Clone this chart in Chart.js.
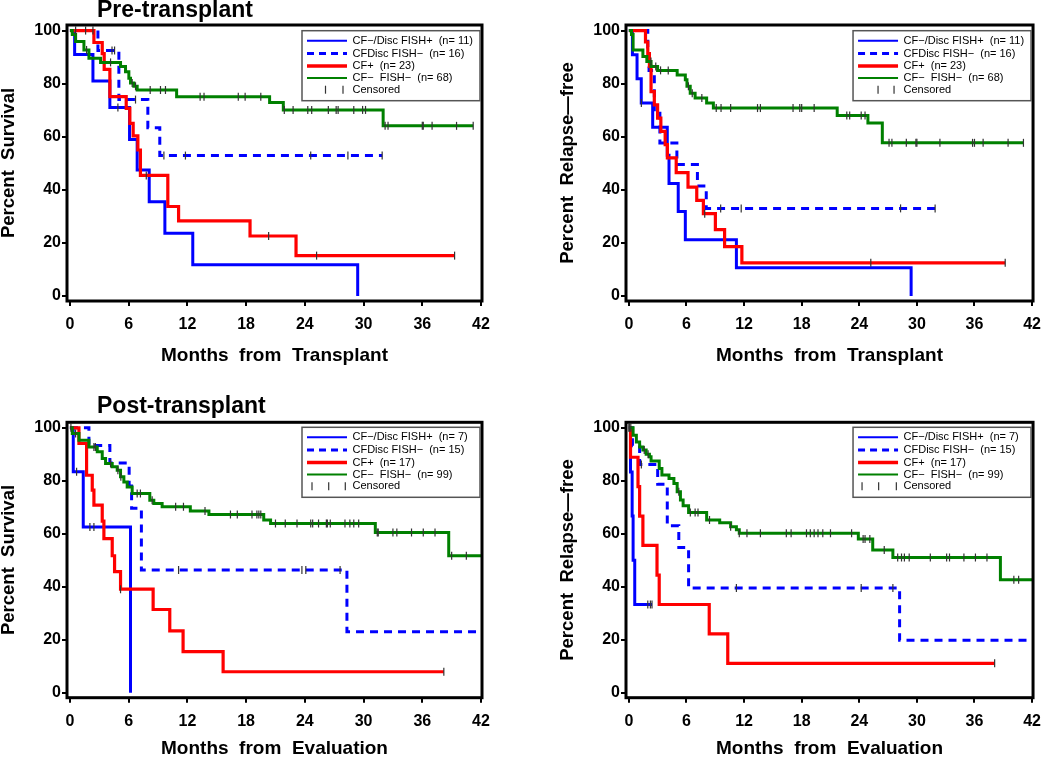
<!DOCTYPE html>
<html>
<head>
<meta charset="utf-8">
<script src="https://cdn.jsdelivr.net/npm/chart.js@4.4.1/dist/chart.umd.min.js"></script>
<style>
  html, body { margin: 0; background: #fff; }
  #wrap { position: relative; width: 1050px; height: 760px; overflow: hidden; }
  #wrap canvas { position: absolute; }
  .ttl { position: absolute; font: bold 23px "Liberation Sans", Arial, sans-serif; line-height: 23px; color: #000; white-space: nowrap; }
</style>
</head>
<body>
<div id="wrap">
  <canvas id="c1" width="525" height="380" style="left:0;top:0"></canvas>
  <canvas id="c2" width="525" height="380" style="left:525px;top:0"></canvas>
  <canvas id="c3" width="525" height="380" style="left:0;top:380px"></canvas>
  <canvas id="c4" width="525" height="380" style="left:525px;top:380px"></canvas>
  <div class="ttl" style="left:97px;top:-2px">Pre-transplant</div>
  <div class="ttl" style="left:97px;top:394px">Post-transplant</div>
</div>
<script>
// axis ticks
const X_TICKS = [0, 6, 12, 18, 24, 30, 36, 42];
const Y_TICKS = [0, 20, 40, 60, 80, 100];

// groups and sizes
const GROUPS = ['CF\u2212/Disc FISH+', 'CFDisc FISH\u2212', 'CF+', 'CF\u2212  FISH\u2212'];
const N_PRE = [11, 16, 23, 68];
const N_POST = [7, 15, 17, 99];

// Pre-transplant, survival (months, percent, censor months)
const preOsBlueT = [0, 0.48, 2.35, 4.08, 6.09, 6.87, 8.1, 9.7, 12.55, 29.4];
const preOsBlueS = [100, 91, 81, 71, 59, 47.5, 35.5, 23.6, 11.8, 0];
const preOsBlueC = [4.9];
const preOsDashT = [0, 2.86, 5.0, 7.96, 9.18, 31.9];
const preOsDashS = [100, 92.5, 74, 63.4, 52.9, 52.9];
const preOsDashC = [4.3, 4.56, 6.7, 9.6, 11.8, 24.6, 28.4, 31.9];
const preOsRedT = [0, 2.45, 3.3, 3.5, 4.08, 5.75, 6.12, 6.46, 6.94, 7.2, 10.0, 11.1, 18.4, 23.1, 39.3];
const preOsRedS = [100, 95.5, 91.3, 85.4, 75.1, 70.7, 65, 60.3, 55, 45.4, 33.7, 28.3, 22.6, 15.2, 15.2];
const preOsRedC = [0.58, 1.6, 2.35, 7.8, 20.3, 25.2, 39.3];
const preOsGreenT = [0, 0.24, 0.58, 1.43, 1.94, 3.13, 5.17, 5.68, 6.02, 6.19, 6.53, 6.87, 10.9, 20.4, 21.8, 32.0, 41.2];
const preOsGreenS = [100, 98.5, 95.9, 92.7, 89.6, 88.0, 86.5, 84.5, 82.0, 80.2, 79.0, 77.6, 75.1, 72.9, 70.1, 64.1, 64.1];
const preOsGreenC = [1.7, 4.15, 6.36, 6.7, 8.2, 9.25, 9.76, 13.3, 13.7, 17.2, 17.9, 19.5, 21.9, 22.8, 24.3, 24.7, 26.4,
  27.2, 27.4, 29.0, 29.9, 30.2, 32.2, 32.5, 36.0, 36.1, 37.0, 39.5, 41.2];

// Pre-transplant, relapse-free
const preRfBlueT = [0, 0.37, 0.85, 1.29, 2.48, 4.0, 4.18, 5.14, 5.88, 11.2, 29.4];
const preRfBlueS = [100, 90.9, 81.8, 72.7, 63.6, 53, 42.4, 31.8, 21.2, 10.6, 0];
const preRfBlueC = [1.3];
const preRfDashT = [0, 1.97, 2.1, 2.65, 3.23, 5.0, 7.14, 8.06, 31.9];
const preRfDashS = [100, 93.8, 85, 68.8, 57.6, 49.5, 41.4, 33, 33];
const preRfDashC = [9.56, 11.7, 28.3, 31.9];
const preRfRedT = [0, 1.73, 1.97, 2.14, 2.31, 2.65, 2.99, 3.33, 3.78, 4.01, 4.93, 6.16, 7.07, 7.76, 9.01, 9.97, 11.77, 39.2];
const preRfRedS = [100, 95.7, 91.3, 86.5, 77, 72, 67, 62, 57, 52, 46.5, 41, 36, 31, 25, 18.6, 12.5, 12.5];
const preRfRedC = [7.9, 25.2, 39.2];
const preRfGreenT = [0, 0.27, 0.44, 1.46, 1.87, 2.31, 2.99, 5.03, 5.88, 6.05, 6.39, 6.9, 8.1, 8.8, 21.7, 24.9, 26.4, 41.1];
const preRfGreenS = [100, 98.5, 92.7, 90.2, 88.3, 86.5, 85, 83.3, 81.5, 79, 76.4, 74.6, 72.7, 70.8, 68.0, 65.2, 57.7, 57.7];
const preRfGreenC = [2.3, 2.8, 3.3, 4.1, 6.2, 6.6, 7.6, 9.1, 9.6, 10.6, 13.4, 13.7, 17.1, 17.8, 18.0, 19.3, 22.7, 23.0,
  24.2, 24.6, 27.1, 27.4, 28.9, 29.9, 30.0, 32.4, 35.8, 36.0, 36.9, 39.5, 41.1];

// Post-transplant, survival
const postOsBlueT = [0, 0.34, 1.36, 6.19];
const postOsBlueS = [100, 83.4, 62.6, 0];
const postOsBlueC = [0.68, 2.04, 2.45];
const postOsDashT = [0, 1.94, 4.08, 6.05, 6.3, 7.3, 28.3, 42];
const postOsDashS = [100, 93.3, 86.7, 78, 69.6, 46.3, 23.0, 23.0];
const postOsDashC = [11.1, 23.7, 24.1, 27.6];
const postOsRedT = [0, 0.92, 1.7, 2.28, 2.45, 3.3, 3.47, 4.32, 4.56, 5.17, 8.5, 10.2, 11.56, 15.65, 38.2];
const postOsRedS = [100, 94.1, 82.1, 76.5, 70.8, 64.8, 58.2, 51.7, 45.7, 39.1, 31.4, 23.3, 15.5, 7.9, 7.9];
const postOsRedC = [5.17, 38.2];
const postOsGreenT = [0, 0.24, 0.92, 1.94, 2.79, 3.3, 3.64, 4.32, 4.83, 5.17, 5.51, 5.85, 6.36, 8.16, 8.57, 9.42, 12.3,
  14.2, 19.8, 20.5, 31.2, 38.7, 42];
const postOsGreenS = [100, 97.9, 95.3, 92.8, 91, 88.4, 86.5, 85.3, 84, 81.5, 79.6, 77.7, 75.2, 72.7, 71.4, 70.2, 68.6,
  67.3, 65.2, 63.9, 60.5, 51.7, 51.7];
const postOsGreenC = [0.1, 0.58, 2.45, 2.6, 4.15, 4.9, 5.2, 6.87, 7.2, 8.4, 10.8, 11.6, 13.8, 16.4, 17.1, 18.6, 19.1,
  19.3, 19.5, 21.0, 22.0, 23.2, 24.6, 24.8, 25.4, 26.2, 26.3, 26.6, 28.1, 28.6, 29.0, 29.5, 31.4, 31.5, 33.0, 33.4,
  34.9, 36.1, 37.3, 39.0, 40.5];

// Post-transplant, relapse-free
const postRfBlueT = [0, 0.17, 0.34, 0.44, 0.61, 2.41];
const postRfBlueS = [100, 83.3, 66.7, 50, 33.3, 33.3];
const postRfBlueC = [0.05, 1.97, 2.24, 2.41];
const postRfDashT = [0, 0.37, 1.12, 3.0, 4.0, 5.2, 6.22, 28.2, 42];
const postRfDashS = [100, 93.2, 86.2, 78.7, 63, 54.8, 39.5, 19.8, 19.8];
const postRfDashC = [1.3, 11.2, 24.2, 27.5];
const postRfRedT = [0, 0.17, 0.95, 1.12, 1.46, 2.93, 3.16, 8.37, 10.3, 38.1];
const postRfRedS = [100, 88.9, 77.8, 66.7, 55.6, 44.4, 33.3, 22.2, 11.1, 11.1];
const postRfRedC = [38.1];
const postRfGreenT = [0, 0.44, 0.78, 1.12, 1.46, 1.8, 2.14, 2.31, 3.16, 3.44, 4.18, 4.69, 5.03, 5.37, 5.65, 6.22, 8.1,
  9.46, 10.6, 11.2, 11.5, 23.9, 25.4, 27.5, 38.7, 42];
const postRfGreenS = [100, 97.2, 94.7, 92.8, 91.6, 90, 89.1, 87.5, 84.7, 82.2, 80.9, 79, 75.9, 72.8, 70.6, 68, 65.2,
  64.2, 62.7, 61.5, 60.2, 58.0, 53.9, 51.0, 42.6, 42.6];
const postRfGreenC = [0.0, 0.2, 1.6, 2.0, 5.2, 6.4, 6.9, 7.2, 8.4, 10.6, 11.5, 12.3, 13.7, 16.4, 16.9, 18.5, 18.9, 19.3,
  19.7, 20.2, 21.0, 23.2, 24.4, 24.6, 25.1, 26.6, 28.0, 28.4, 28.7, 29.2, 31.4, 33.1, 33.4, 34.9, 36.1, 37.3, 40.1, 40.6];

const FONT = '"Liberation Sans", Arial, Helvetica, sans-serif';

// line look per group: solid blue, dashed blue, red, green
const STYLES = [
  { color: '#0000ff', width: 3, dash: [], legendWidth: 2 },
  { color: '#0000ff', width: 3, dash: [8, 6], legendWidth: 3 },
  { color: '#ff0000', width: 3.2, dash: [], legendWidth: 3.5 },
  { color: '#008000', width: 3, dash: [], legendWidth: 2 }
];

// value of a step curve at time t
function stepAt(T, S, t) {
  let v = S[0];
  for (let i = 0; i < T.length; i++) {
    if (T[i] <= t) v = S[i];
  }
  return v;
}

// frame around the plot and the boxed legend
const kmPlugin = {
  id: 'kmPlugin',
  afterDatasetsDraw(chart, args, opts) {
    const { ctx, chartArea: a } = chart;
    ctx.save();
    ctx.lineWidth = 3;
    ctx.strokeStyle = '#000';
    ctx.strokeRect(a.left, a.top, a.right - a.left, a.bottom - a.top);

    const W = 178, H = 70;
    const L = a.right - 2 - W, T = a.top + opts.top;
    ctx.fillStyle = '#fff';
    ctx.fillRect(L, T, W, H);
    ctx.lineWidth = 1.5;
    ctx.strokeStyle = '#555';
    ctx.strokeRect(L, T, W, H);

    const rows = [10, 22.8, 35.3, 47.3, 59];
    ctx.font = '11px ' + FONT;
    ctx.textBaseline = 'middle';
    ctx.textAlign = 'left';
    STYLES.forEach((st, i) => {
      const y = T + rows[i];
      ctx.beginPath();
      ctx.lineWidth = st.legendWidth;
      ctx.strokeStyle = st.color;
      ctx.setLineDash(st.dash.length ? [7, 5] : []);
      ctx.moveTo(L + 5, y);
      ctx.lineTo(L + 45, y);
      ctx.stroke();
      ctx.setLineDash([]);
      ctx.fillStyle = '#000';
      ctx.fillText(GROUPS[i] + '  (n= ' + opts.n[i] + ')', L + 50.5, y);
    });
    const yc = T + rows[4];
    ctx.lineWidth = 1.2;
    ctx.strokeStyle = '#333';
    opts.censorAt.forEach(dx => {
      ctx.beginPath();
      ctx.moveTo(L + dx, yc - 4);
      ctx.lineTo(L + dx, yc + 4);
      ctx.stroke();
    });
    ctx.fillStyle = '#000';
    ctx.fillText('Censored', L + 50.5, yc);
    ctx.restore();
  }
};

function makePanel(id, p) {
  const curves = [];
  const marks = [];
  p.series.forEach((s, i) => {
    const [T, S, C] = s;
    const st = STYLES[i];
    curves.push({
      data: T.map((t, k) => ({ x: t, y: S[k] })),
      stepped: true,
      borderColor: st.color,
      borderWidth: st.width,
      borderDash: st.dash,
      pointRadius: 0,
      fill: false
    });
    marks.push({
      data: C.map(t => ({ x: t, y: stepAt(T, S, t) })),
      showLine: false,
      pointStyle: 'line',
      rotation: 90,
      pointRadius: 4,
      pointBorderColor: '#333',
      pointBorderWidth: 1.2
    });
  });

  const tickFont = { family: FONT, size: 16, weight: 'bold' };
  new Chart(document.getElementById(id), {
    type: 'line',
    // first dataset is painted last, so marks sit on top and green over red over blue
    data: { datasets: marks.concat(curves.reverse()) },
    options: {
      responsive: false,
      animation: false,
      devicePixelRatio: 1,
      layout: { padding: { left: 0, right: p.right, top: p.top, bottom: 0 } },
      plugins: {
        legend: { display: false },
        tooltip: { enabled: false },
        kmPlugin: { n: p.n, censorAt: p.legendTicks, top: p.legendTop }
      },
      scales: {
        x: {
          type: 'linear',
          min: -0.3,
          max: 42.1,
          afterBuildTicks: s => { s.ticks = X_TICKS.map(v => ({ value: v })); },
          afterFit: s => { s.height = p.xHeight; },
          ticks: { font: tickFont, color: '#000', padding: 9, maxRotation: 0, autoSkip: false },
          grid: { drawOnChartArea: false, drawTicks: true, tickLength: 5, lineWidth: 2, color: '#000' },
          border: { display: false },
          title: {
            display: true, text: p.xTitle, color: '#000',
            font: { family: FONT, size: 19, weight: 'bold', lineHeight: 1 },
            padding: { top: 0, bottom: p.xTitlePad }
          }
        },
        y: {
          type: 'linear',
          min: -1.9,
          max: 102.1,
          afterBuildTicks: s => { s.ticks = Y_TICKS.map(v => ({ value: v })); },
          afterFit: s => { s.width = p.yWidth; },
          ticks: { font: tickFont, color: '#000', padding: 1 },
          grid: { drawOnChartArea: false, drawTicks: true, tickLength: 5, lineWidth: 2, color: '#000' },
          border: { display: false },
          title: {
            display: true, text: p.yTitle, color: '#000',
            font: { family: FONT, size: 18.5, weight: 'bold', lineHeight: 1 },
            padding: { top: p.yTitlePad, bottom: 0 }
          }
        }
      }
    },
    plugins: [kmPlugin]
  });
}

makePanel('c1', {
  series: [[preOsBlueT, preOsBlueS, preOsBlueC], [preOsDashT, preOsDashS, preOsDashC],
    [preOsRedT, preOsRedS, preOsRedC], [preOsGreenT, preOsGreenS, preOsGreenC]],
  n: N_PRE, legendTicks: [23.5, 41], legendTop: 5.7,
  yTitle: 'Percent  Survival', xTitle: 'Months  from  Transplant',
  top: 25, right: 43, yWidth: 67, xHeight: 79, xTitlePad: 14.5, yTitlePad: 0
});
makePanel('c2', {
  series: [[preRfBlueT, preRfBlueS, preRfBlueC], [preRfDashT, preRfDashS, preRfDashC],
    [preRfRedT, preRfRedS, preRfRedC], [preRfGreenT, preRfGreenS, preRfGreenC]],
  n: N_PRE, legendTicks: [25, 41], legendTop: 5.7,
  yTitle: 'Percent  Relapse\u2014free', xTitle: 'Months  from  Transplant',
  top: 25, right: 8, yWidth: 101, xHeight: 79, xTitlePad: 14.5, yTitlePad: 33.5
});
makePanel('c3', {
  series: [[postOsBlueT, postOsBlueS, postOsBlueC], [postOsDashT, postOsDashS, postOsDashC],
    [postOsRedT, postOsRedS, postOsRedC], [postOsGreenT, postOsGreenS, postOsGreenC]],
  n: N_POST, legendTicks: [10, 26.7, 43.3], legendTop: 5,
  yTitle: 'Percent  Survival', xTitle: 'Months  from  Evaluation',
  top: 42.3, right: 43, yWidth: 67, xHeight: 62.3, xTitlePad: 1.5, yTitlePad: 0
});
makePanel('c4', {
  series: [[postRfBlueT, postRfBlueS, postRfBlueC], [postRfDashT, postRfDashS, postRfDashC],
    [postRfRedT, postRfRedS, postRfRedC], [postRfGreenT, postRfGreenS, postRfGreenC]],
  n: N_POST, legendTicks: [9, 25.6, 43.3], legendTop: 5,
  yTitle: 'Percent  Relapse\u2014free', xTitle: 'Months  from  Evaluation',
  top: 42.3, right: 8, yWidth: 101, xHeight: 62.3, xTitlePad: 1.5, yTitlePad: 33.5
});
</script>
</body>
</html>
